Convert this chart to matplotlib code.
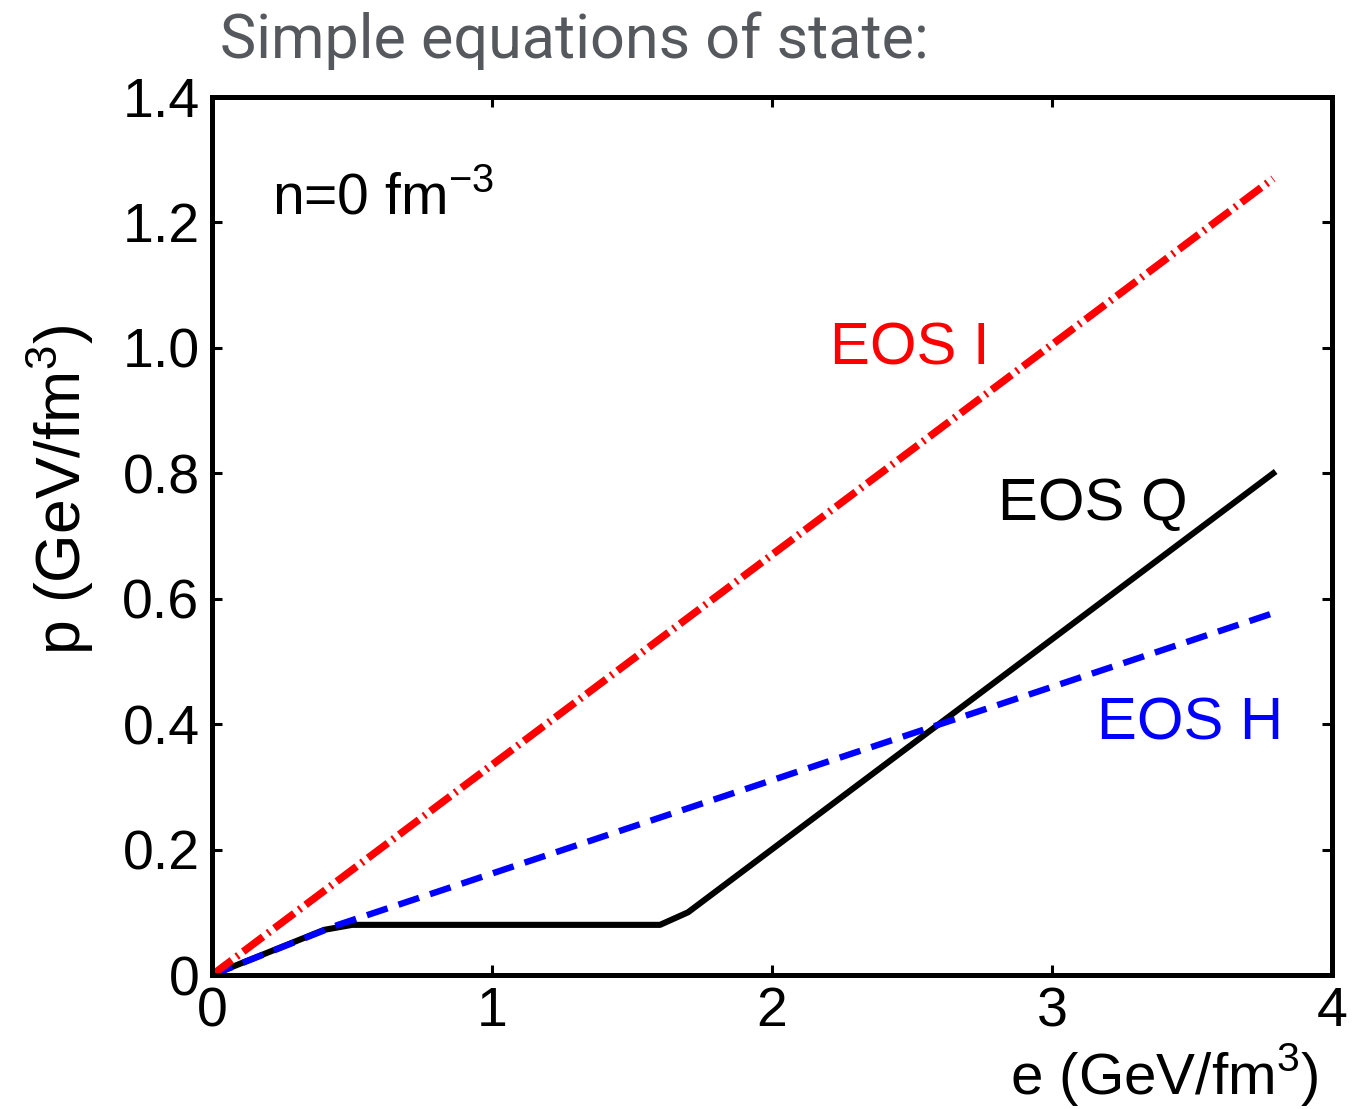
import matplotlib
matplotlib.use("Agg")
import matplotlib.pyplot as plt

# energy density e (GeV/fm^3) vs pressure p (GeV/fm^3)
e_eos_i = [0.0, 3.79]
p_eos_i = [0.0, 1.27]

e_eos_h = [0.0, 0.45, 3.79]
p_eos_h = [0.0, 0.08, 0.577]

e_eos_q = [0.0, 0.40, 0.50, 1.60, 1.70, 3.79]
p_eos_q = [0.0, 0.072, 0.08, 0.08, 0.10, 0.80]

x_ticks = [0, 1, 2, 3, 4]
y_ticks = [0, 0.2, 0.4, 0.6, 0.8, 1.0, 1.2, 1.4]
y_tick_labels = ["0", "0.2", "0.4", "0.6", "0.8", "1.0", "1.2", "1.4"]

plt.rcParams["font.family"] = ["Liberation Sans", "DejaVu Sans"]
plt.rcParams["mathtext.fontset"] = "custom"
plt.rcParams["mathtext.rm"] = "Liberation Sans"

fig = plt.figure(figsize=(13.67, 11.09), dpi=100)
ax = fig.add_axes([0.1551, 0.1208, 0.8193, 0.7917])

ax.plot(e_eos_q, p_eos_q, color="black", lw=4.4, solid_joinstyle="round")
ax.plot(e_eos_h, p_eos_h, color="#0000ff", lw=4.6, ls=(0, (3.4, 1.8)))
ax.plot(e_eos_i, p_eos_i, color="#ff0000", lw=5.4,
        ls=(0, (3.3, 0.8, 0.3, 0.8)))

ax.set_xlim(0, 4)
ax.set_ylim(0, 1.4)
ax.set_xticks(x_ticks)
ax.set_xticklabels([str(v) for v in x_ticks])
ax.set_yticks(y_ticks)
ax.set_yticklabels(y_tick_labels)
ax.tick_params(direction="in", length=7, width=2.2, top=True, right=True,
               labelsize=40, pad=9)
ax.tick_params(axis="x", pad=8)
for sp in ax.spines.values():
    sp.set_linewidth(3.6)

ax.text(0.214, 1.212, r"n=0 fm$^{\mathregular{-3}}$", fontsize=41)
ax.text(2.207, 0.973, "EOS I", fontsize=43, color="#ff0000")
ax.text(2.807, 0.726, "EOS Q", fontsize=43, color="black")
ax.text(3.16, 0.375, "EOS H", fontsize=43, color="#0000ff")

fig.text(0.0439, 0.558, r"p (GeV/fm$^{\mathregular{3}}$)", rotation=90,
         fontsize=45, ha="center", va="center")
fig.text(0.852, 0.013, r"e (GeV/fm$^{\mathregular{3}}$)", fontsize=42,
         ha="center", va="baseline")

fig.text(0.161, 0.948, "Simple equations of state:", fontsize=44,
         color="#55595e", family=["Roboto", "DejaVu Sans"], weight="normal",
         va="baseline")

fig.savefig("out.png", dpi=100)
